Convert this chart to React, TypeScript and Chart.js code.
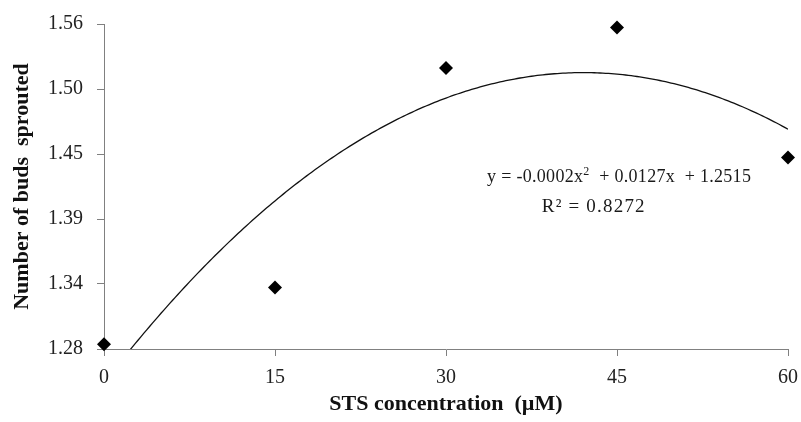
import React, { useEffect, useRef } from "react";
import { Chart, registerables } from "chart.js";

Chart.register(...registerables);

// Data
const concentrations = [0, 15, 30, 45, 60];
const budsSprouted = [1.284, 1.333, 1.522, 1.557, 1.445];
const xTickValues = [0, 15, 30, 45, 60];
const yTickValues = [1.28, 1.336, 1.392, 1.448, 1.504, 1.56];
const xTitle = "STS concentration  (\u00B5M)";
const yTitle = "Number of buds  sprouted";
const eqPartA = "y = -0.0002x";
const eqSup = "2";
const eqPartB = "  + 0.0127x  + 1.2515";
const r2Text = "R\u00B2 = 0.8272";
// anchor of equation text (data coordinates)
const eqAnchor = { x: 33.6, y: 1.4235 };
const r2Anchor = { x: 38.4, y: 1.3981 };

// Least squares quadratic fit (Excel-style polynomial trendline)
function quadFit(xs: number[], ys: number[]) {
  const S = (f: (x: number, y: number) => number) =>
    xs.reduce((a, x, i) => a + f(x, ys[i]), 0);
  const n = xs.length;
  const s1 = S((x) => x), s2 = S((x) => x * x), s3 = S((x) => x ** 3), s4 = S((x) => x ** 4);
  const t0 = S((_, y) => y), t1 = S((x, y) => x * y), t2 = S((x, y) => x * x * y);
  const M = [
    [s4, s3, s2, t2],
    [s3, s2, s1, t1],
    [s2, s1, n, t0],
  ];
  for (let i = 0; i < 3; i++) {
    for (let j = i + 1; j < 3; j++) {
      const f = M[j][i] / M[i][i];
      for (let k = i; k < 4; k++) M[j][k] -= f * M[i][k];
    }
  }
  const c = M[2][3] / M[2][2];
  const b = (M[1][3] - M[1][2] * c) / M[1][1];
  const a = (M[0][3] - M[0][1] * b - M[0][2] * c) / M[0][0];
  return { a, b, c };
}

const FONT = "'Liberation Serif', 'Times New Roman', serif";

export default function App() {
  const ref = useRef<HTMLCanvasElement | null>(null);
  useEffect(() => {
    document.body.style.margin = "0";
    const fit = quadFit(concentrations, budsSprouted);
    const xMin = xTickValues[0];
    const xMax = xTickValues[xTickValues.length - 1];
    const trend: { x: number; y: number }[] = [];
    for (let i = 0; i <= 240; i++) {
      const x = xMin + ((xMax - xMin) * i) / 240;
      trend.push({ x, y: fit.a * x * x + fit.b * x + fit.c });
    }

    const eqPlugin = {
      id: "eq",
      afterDatasetsDraw(chart: any) {
        const ctx = chart.ctx;
        const xs = chart.scales.x, ys = chart.scales.y;
        ctx.save();
        ctx.fillStyle = "#1a1a1a";
        ctx.textBaseline = "alphabetic";
        ctx.textAlign = "left";
        ctx.letterSpacing = "0.3px";
        let px = xs.getPixelForValue(eqAnchor.x);
        const py = ys.getPixelForValue(eqAnchor.y);
        ctx.font = `18px ${FONT}`;
        ctx.fillText(eqPartA, px, py);
        px += ctx.measureText(eqPartA).width;
        ctx.font = `12px ${FONT}`;
        ctx.fillText(eqSup, px, py - 7);
        px += ctx.measureText(eqSup).width;
        ctx.font = `18px ${FONT}`;
        ctx.fillText(eqPartB.replace(/ /g, "\u00A0"), px, py);
        ctx.font = `19px ${FONT}`;
        ctx.letterSpacing = "1.2px";
        ctx.fillText(r2Text, xs.getPixelForValue(r2Anchor.x), ys.getPixelForValue(r2Anchor.y));
        ctx.restore();
      },
    };

    const chart = new Chart(ref.current!, {
      type: "scatter",
      data: {
        datasets: [
          {
            type: "line",
            data: trend,
            borderColor: "#111",
            borderWidth: 1.3,
            pointRadius: 0,
            fill: false,
            tension: 0,
          } as any,
          {
            type: "scatter",
            data: concentrations.map((x, i) => ({ x, y: budsSprouted[i] })),
            pointStyle: "rectRot",
            pointRadius: 7,
            backgroundColor: "#000",
            borderColor: "#000",
            borderWidth: 0,
            clip: false,
          } as any,
        ],
      },
      options: {
        responsive: false,
        animation: false,
        layout: { padding: { top: 24, right: 13, left: 0, bottom: 0 } },
        plugins: { legend: { display: false }, tooltip: { enabled: false } },
        scales: {
          x: {
            type: "linear",
            min: xMin,
            max: xMax,
            afterBuildTicks: (s: any) => {
              s.ticks = xTickValues.map((v) => ({ value: v }));
            },
            afterFit: (s: any) => {
              s.height = 73;
              s.paddingLeft = 0;
              s.paddingRight = 0;
            },
            ticks: {
              color: "#222",
              font: { family: FONT, size: 20 },
              padding: 10,
              maxRotation: 0,
              callback: (v: any) => String(v),
            },
            grid: {
              display: true,
              drawOnChartArea: false,
              drawTicks: true,
              tickLength: 7,
              color: "#808080",
            },
            border: { display: true, color: "#808080", width: 1 },
            title: {
              display: true,
              text: xTitle,
              color: "#111",
              font: { family: FONT, size: 22, weight: "bold" },
              padding: { top: 0, bottom: 4 },
            },
          },
          y: {
            type: "linear",
            min: yTickValues[0],
            max: yTickValues[yTickValues.length - 1],
            afterBuildTicks: (s: any) => {
              s.ticks = yTickValues.map((v) => ({ value: v }));
            },
            afterFit: (s: any) => {
              s.width = 104;
              s.paddingTop = 0;
              s.paddingBottom = 0;
            },
            ticks: {
              color: "#222",
              font: { family: FONT, size: 20 },
              padding: 14,
              callback: (v: any) => Number(v).toFixed(2),
            },
            grid: {
              display: true,
              drawOnChartArea: false,
              drawTicks: true,
              tickLength: 7,
              color: "#808080",
            },
            border: { display: true, color: "#808080", width: 1 },
            title: {
              display: true,
              text: yTitle,
              color: "#111",
              font: { family: FONT, size: 22, weight: "bold" },
              padding: { top: 9, bottom: 0 },
            },
          },
        },
      },
      plugins: [eqPlugin],
    });
    return () => chart.destroy();
  }, []);
  return (
    <div style={{ width: 801, height: 422 }}>
      <canvas ref={ref} width={801} height={422} />
    </div>
  );
}
